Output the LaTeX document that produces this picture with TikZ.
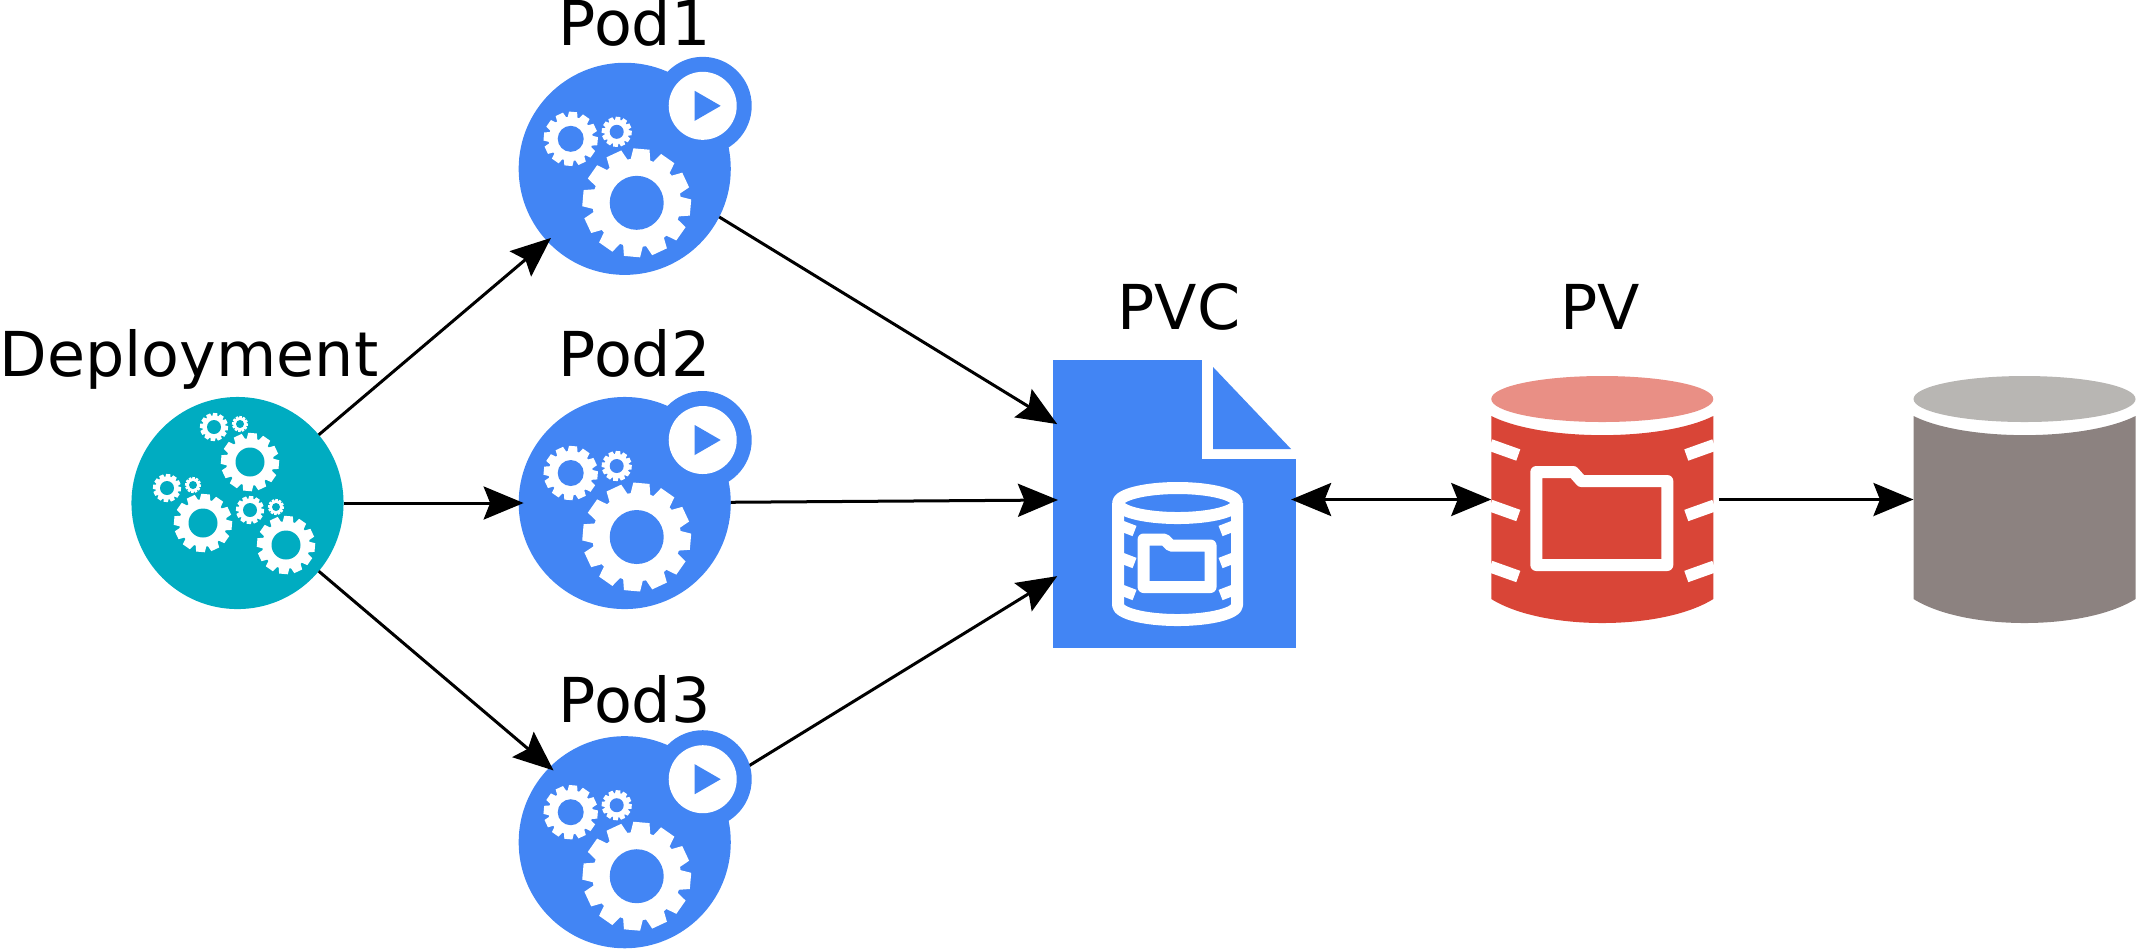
\documentclass[tikz,border=0pt]{standalone}
\usepackage{fontspec}
\setmainfont{DejaVu Sans}
\usetikzlibrary{arrows.meta,positioning,calc}
\definecolor{podblue}{HTML}{4285F4}
\definecolor{deployteal}{HTML}{00ACC1}
\definecolor{pvred}{HTML}{D94537}
\definecolor{pvlight}{HTML}{E98F85}
\definecolor{diskgray}{HTML}{8C8280}
\definecolor{disklight}{HTML}{B8B6B3}
\tikzset{
  disc/.style={circle, inner sep=0pt, outer sep=0pt, minimum size=2.12cm, fill=#1},
  pvcsheet/.style={rectangle, inner sep=0pt, outer sep=0pt, minimum width=2.43cm,
                   minimum height=2.88cm, fill=podblue},
  drum/.style={rectangle, inner sep=0pt, outer sep=0pt, minimum width=2.22cm,
               minimum height=2.47cm},
  caption/.style={inner sep=0pt, outer sep=0pt, font=\fontsize{17.6}{20}\selectfont,
                  text height=0.5cm, text depth=0.1cm},
  arrow/.style={->, >={Stealth[length=0.4cm,width=0.33cm,inset=0.065cm]}, line width=0.03cm, black,
                shorten >=-0.05cm},
  whitebar/.style={white, line width=0.12cm, line join=round},
  pics/gearwheel/.style n args={3}{code={
    \fill[white] (0,0) circle[radius=#1*0.82];
    \foreach \a in {-5,25,...,325}
      \fill[white,rotate=\a] (#1*0.75,-#1*0.19) -- (#1,-#1*0.15) -- (#1,#1*0.15) -- (#1*0.75,#1*0.19) -- cycle;
    \fill[#3] (0,0) circle[radius=#2];
  }},
  pics/podface/.style={code={
    \fill[podblue] (78,-63) circle[radius=49];
    \fill[white] (78,-63) circle[radius=34];
    \fill[podblue] (70,-78) -- (96,-63) -- (70,-48) -- cycle;
    \pic at (12,34) {gearwheel={54}{27}{podblue}};
    \pic at (-54,-30) {gearwheel={27}{13}{podblue}};
    \pic at (-8,-37) {gearwheel={15}{7}{podblue}};
  }},
  pics/gearset/.style={code={
    \pic at (0,0) {gearwheel={29}{14.5}{deployteal}};
    \pic at (-36,-35) {gearwheel={14}{7}{deployteal}};
    \pic at (-10,-38) {gearwheel={8}{4}{deployteal}};
  }},
  pics/drumshell/.style n args={2}{code={
    \fill[#1] (-111,-83.5) .. controls (-60,-58) and (60,-58) .. (111,-83.5)
      -- (111,99.5) .. controls (60,131.5) and (-60,131.5) .. (-111,99.5) -- cycle;
    \fill[#2] (0,-100.5) ellipse [x radius=111, y radius=23];
  }},
}

\begin{document}
\begin{tikzpicture}[x=0.01cm, y=-0.01cm]
\useasboundingbox (0,0) rectangle (2148,950);

% -------------------- Nodes --------------------
\node[disc=deployteal] (deploy) at (237.5,503) {};
\node[disc=podblue, right=1.75cm of deploy] (pod2) {};
\node[disc=podblue, above=1.22cm of pod2] (pod1) {};
\node[disc=podblue, below=1.27cm of pod2] (pod3) {};
\node[pvcsheet, right=3.22cm of pod2, yshift=-0.01cm] (pvc) {};
\node[drum, right=1.95cm of pvc, yshift=0.045cm] (pv) {};
\node[drum, right=2.0cm of pv] (disk) {};

% -------------------- Labels --------------------
\node[caption, above=0.1cm of deploy, xshift=-0.485cm] (deploylabel) {Deployment};
\node[caption, above=0.07cm of pod1, xshift=0.1cm] (pod1label) {Pod1};
\node[caption, above=0.1cm of pod2, xshift=0.1cm] (pod2label) {Pod2};
\node[caption, above=0.04cm of pod3, xshift=0.1cm] (pod3label) {Pod3};
\node[caption, above=0.2cm of pvc, xshift=0.045cm] (pvclabel) {PVC};
\node[caption, above=0.36cm of pv, xshift=-0.02cm] (pvlabel) {PV};

% -------------------- PVC sheet --------------------
\begin{scope}[shift={(pvc)}]
  \fill[white] (27.5,-145) rectangle (122,-45);
  \fill[podblue] (38.5,-137) -- (38.5,-55) -- (116.5,-55) -- cycle;
  \begin{scope}[xshift=0.03cm]
    \draw[whitebar] (0,-1) ellipse [x radius=59.5, y radius=15];
    \draw[whitebar] (-59.5,-1) -- (-59.5,101) arc[start angle=180, end angle=0, x radius=59.5, y radius=15] -- (59.5,-1);
    \foreach \y in {22,54,86} {
      \draw[white, line width=0.11cm] (-56,\y) -- (-43,\y+5);
      \draw[white, line width=0.11cm] (56,\y) -- (43,\y+5);
    }
    \draw[whitebar] (-34,35.5) -- (-13,35.5) -- (-7,41.5) -- (33,41.5) -- (33,83) -- (-34,83) -- cycle;
  \end{scope}
\end{scope}

% -------------------- Cylinders --------------------
\pic at (pv) {drumshell={pvred}{pvlight}};
\pic at (disk) {drumshell={diskgray}{disklight}};
\begin{scope}[shift={(pv)}]
  \foreach \y in {-54.5,6,67} {
    \draw[whitebar, line join=miter] (-112,\y) -- (-84,\y+10);
    \draw[whitebar, line join=miter] (112,\y) -- (84,\y+10);
  }
  \draw[whitebar] (-66,-27.5) -- (-29,-27.5) -- (-21,-18.5) -- (65,-18.5) -- (65,65.5) -- (-66,65.5) -- cycle;
\end{scope}

% -------------------- Arrows --------------------
\draw[arrow] (deploy.40.6) -- (pod1.-137);
\draw[arrow] (deploy) -- (pod2);
\draw[arrow] (deploy.-40.6) -- (pod3.135);
\draw[arrow] (pod1.-27) -- ($(pvc.west)+(0,-82.5)$);
\draw[arrow] (pod2) -- ($(pvc.west)+(0,-4)$);
\draw[arrow] (pod3) -- (pvc);
\draw[arrow, <->, shorten <=-0.05cm, shorten >=0pt] (pvc.east |- pv) -- (pv.west);
\draw[arrow, shorten <=0.06cm, shorten >=0pt] (pv.east) -- (disk.west);

% -------------------- Gears --------------------
\pic at (pod1) {podface};
\pic at (pod2) {podface};
\pic at (pod3) {podface};
\begin{scope}[shift={(deploy)}]
  \pic at (12.5,-41) {gearset};
  \pic at (-34.5,20) {gearset};
  \pic at (48.5,42) {gearset};
\end{scope}

\end{tikzpicture}
\end{document}
